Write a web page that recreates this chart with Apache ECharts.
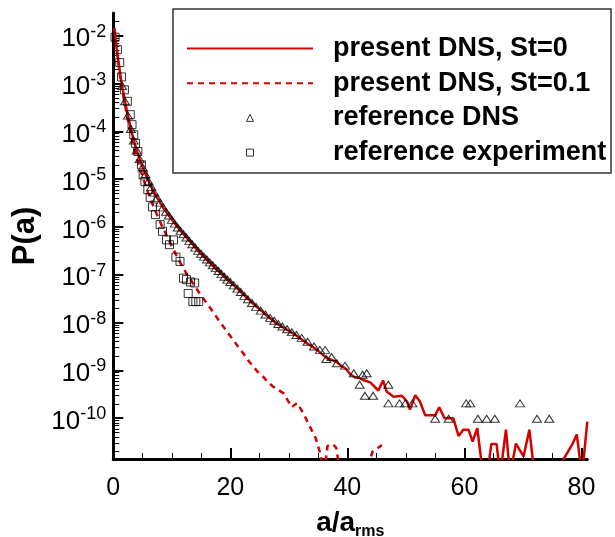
<!DOCTYPE html>
<html><head><meta charset="utf-8">
<script src="https://cdn.jsdelivr.net/npm/echarts@6/dist/echarts.min.js"></script>
<style>html,body{margin:0;padding:0;background:#fff}#c{width:615px;height:537px}</style>
</head><body><div id="c"></div>
<script>
// ---- data: x = a/a_rms, values are log10 P(a); -11.2 marks zero-probability bins (below the axis floor)
const st0X = [0.2,0.6,1.4,2.3,3.1,3.7,4.5,5.3,6.1,6.9,7.7,8.5,9.3,10.1,10.9,11.7,12.5,13.3,14.1,14.9,15.7,16.5,17.3,18.1,18.9,19.7,20.5,21.3,22.1,22.9,23.7,24.5,25.3,26.1,26.9,27.7,28.5,29.3,30.1,30.9,31.7,32.5,33.3,34.1,34.9,35.7,36.5,37.3,38.1,38.9,39.7,40.5,41.3,42.1,42.7,43.9,45.3,46.1,46.7,47.9,49.3,50.2,50.7,51.6,52.4,53.3,55.0,55.7,56.6,58.1,59.0,59.8,60.7,61.4,62.2,63.2,63.9,64.6,65.5,66.1,67.1,67.8,68.8,70.1,71.1,72.0,75.3,78.5,79.2,80.1,81.0];
const st0LogP = [-1.84,-2.29,-2.99,-3.55,-4.00,-4.28,-4.58,-4.84,-5.06,-5.26,-5.43,-5.59,-5.73,-5.86,-5.99,-6.11,-6.22,-6.33,-6.44,-6.55,-6.65,-6.75,-6.85,-6.94,-7.03,-7.12,-7.21,-7.30,-7.40,-7.49,-7.58,-7.67,-7.75,-7.84,-7.92,-8.00,-8.06,-8.12,-8.18,-8.24,-8.31,-8.38,-8.45,-8.51,-8.58,-8.66,-8.74,-8.78,-8.82,-8.90,-8.96,-9.08,-9.15,-9.16,-9.20,-9.25,-9.42,-9.21,-9.44,-9.55,-9.53,-9.65,-9.82,-9.52,-9.65,-9.94,-9.94,-9.77,-10.00,-10.00,-10.37,-10.24,-10.24,-10.49,-10.21,-11.2,-11.2,-10.54,-10.54,-11.2,-10.24,-11.2,-10.53,-10.80,-10.24,-11.2,-11.2,-10.53,-10.34,-11.2,-10.07];

const st01X = [0.2,0.6,1.2,2.0,2.8,3.6,4.4,5.2,6.0,6.8,7.6,8.4,9.2,10.0,10.8,11.6,12.4,13.2,14.0,14.8,15.6,16.4,17.2,18.0,18.8,19.6,20.5,21.3,22.2,23.0,23.9,24.7,25.6,26.4,27.3,28.1,29.1,30.5,31.4,32.5,33.4,34.6,35.4,36.0,36.6,37.5,38.1,38.8,43.0,44.3,45.9];
const st01LogP = [-1.86,-2.32,-2.90,-3.45,-3.95,-4.38,-4.72,-5.02,-5.30,-5.55,-5.78,-6.00,-6.20,-6.40,-6.60,-6.78,-6.95,-7.10,-7.25,-7.40,-7.53,-7.67,-7.80,-7.95,-8.08,-8.22,-8.36,-8.50,-8.64,-8.78,-8.92,-9.03,-9.13,-9.24,-9.34,-9.40,-9.48,-9.77,-9.68,-9.90,-10.13,-10.42,-10.75,-11.2,-10.58,-10.54,-10.62,-11.2,-11.2,-10.70,-10.56];

const refDnsX = [1.5,2.0,2.5,3.0,3.5,4.0,4.5,5.0,5.5,6.0,6.5,7.0,7.5,8.0,8.5,9.0,9.5,10.0,10.5,11.0,11.5,12.0,12.5,13.0,13.5,14.0,14.5,15.0,15.5,16.0,16.5,17.0,17.5,18.0,18.5,19.0,19.5,20.0,20.6,21.2,21.8,22.4,23.0,23.7,24.4,25.2,26.0,26.8,27.5,28.2,28.9,29.7,30.5,31.3,32.2,33.2,34.3,35.3,36.2,36.4,37.3,38.2,39.6,41.1,42.1,42.6,43.0,43.3,44.4,47.0,47.0,48.9,49.9,51.1,55.0,57.3,60.3,61.0,62.3,63.8,65.2,69.5,72.4,74.5];
const refDnsLogP = [-3.05,-3.37,-3.67,-3.95,-4.19,-4.40,-4.58,-4.75,-4.90,-5.04,-5.16,-5.28,-5.39,-5.49,-5.59,-5.68,-5.76,-5.85,-5.93,-6.01,-6.08,-6.15,-6.22,-6.29,-6.36,-6.43,-6.50,-6.56,-6.62,-6.68,-6.74,-6.80,-6.86,-6.92,-6.98,-7.04,-7.10,-7.15,-7.22,-7.29,-7.36,-7.44,-7.51,-7.59,-7.67,-7.75,-7.83,-7.90,-7.96,-8.03,-8.08,-8.14,-8.20,-8.26,-8.32,-8.40,-8.50,-8.57,-8.57,-8.76,-8.72,-8.85,-8.90,-9.06,-9.30,-9.09,-9.53,-9.06,-9.53,-9.30,-9.69,-9.69,-9.69,-9.69,-10.01,-10.01,-9.69,-9.69,-10.01,-10.01,-10.01,-9.69,-10.01,-10.01];

const refExpX = [0.3,0.7,1.1,1.4,1.9,2.4,2.9,3.2,3.5,3.8,4.2,4.8,5.1,5.4,5.9,6.3,6.7,7.2,8.0,8.4,9.1,9.6,10.3,10.7,11.4,12.0,12.5,13.2,13.9,12.8,13.6,14.1,14.6];
const refExpLogP = [-2.03,-2.29,-2.56,-2.86,-3.13,-3.37,-3.65,-3.86,-4.07,-4.25,-4.42,-4.70,-4.91,-5.05,-5.22,-5.38,-5.58,-5.74,-5.95,-6.09,-6.27,-6.37,-6.27,-6.63,-6.72,-7.07,-7.10,-7.15,-7.17,-7.39,-7.56,-7.56,-7.56];

const seriesNames = ['present DNS, St=0', 'present DNS, St=0.1', 'reference DNS', 'reference experiment'];
const xTickLabels = [0, 20, 40, 60, 80];
const xMinorTicks = [5, 10, 15, 25, 30, 35, 45, 50, 55, 65, 70, 75];
const yDecades = [-10, -9, -8, -7, -6, -5, -4, -3, -2];

// ---- build
const FONT = '"Liberation Sans", Arial, Helvetica, sans-serif';
const RED = '#d40000';
const TRI_ICON = 'path://M0,10L5,0L10,10Z';
const SQ_ICON = 'path://M0,0L10,0L10,10L0,10Z';
const pairs = (xs, ys) => xs.map((x, i) => [x, ys[i]]);
const yMin = -10.853, yMax = -1.523;
const yMinor = [];
for (let n = -11; n <= -2; n++) for (let k = 2; k <= 9; k++) {
  const v = n + Math.log10(k);
  if (v > yMin && v <= yMax + 1e-6) yMinor.push(v);
}

const chart = echarts.init(document.getElementById('c'), null, {renderer: 'canvas'});
chart.setOption({
  animation: false,
  backgroundColor: '#fff',
  grid: {left: 113.3, right: 27.7, top: 13, bottom: 78, outerBoundsMode: 'none'},
  xAxis: [{
    type: 'value', min: 0, max: 81, position: 'bottom',
    axisLine: {lineStyle: {color: '#000', width: 3}},
    axisTick: {inside: true, length: 11, lineStyle: {color: '#000', width: 2}, customValues: xTickLabels},
    axisLabel: {customValues: xTickLabels, color: '#000', fontFamily: FONT, fontSize: 25, margin: 17},
    splitLine: {show: false},
    name: '{m|a/a}{sub|rms}', nameLocation: 'middle', nameGap: 46,
    nameTextStyle: {rich: {
      m: {fontFamily: FONT, fontSize: 28, fontWeight: 'bold', color: '#000', lineHeight: 28, verticalAlign: 'top'},
      sub: {fontFamily: FONT, fontSize: 16, fontWeight: 'bold', color: '#000', lineHeight: 16, padding: [18, 0, 0, 0]}
    }}
  }, {
    type: 'value', min: 0, max: 81, position: 'bottom',
    axisLine: {show: false},
    axisTick: {inside: true, length: 6, lineStyle: {color: '#000', width: 1}, customValues: xMinorTicks},
    axisLabel: {show: false}, splitLine: {show: false}
  }],
  yAxis: [{
    type: 'value', min: yMin, max: yMax, position: 'left',
    axisLine: {lineStyle: {color: '#000', width: 3}},
    axisTick: {inside: true, length: 10, lineStyle: {color: '#000', width: 2}, customValues: yDecades},
    axisLabel: {
      customValues: yDecades, margin: 7,
      formatter: v => '{b|10}{s|' + Math.round(v) + '}',
      rich: {
        b: {fontFamily: FONT, fontSize: 26, color: '#000', lineHeight: 26, padding: [7, 0, 0, 0]},
        s: {fontFamily: FONT, fontSize: 18, color: '#000', lineHeight: 18, verticalAlign: 'top'}
      }
    },
    splitLine: {show: false},
    name: 'P(a)', nameLocation: 'middle', nameGap: 70, nameRotate: 90,
    nameTextStyle: {fontFamily: FONT, fontSize: 31, fontWeight: 'bold', color: '#000'}
  }, {
    type: 'value', min: yMin, max: yMax, position: 'left',
    axisLine: {show: false},
    axisTick: {inside: true, length: 6, lineStyle: {color: '#000', width: 1}, customValues: yMinor},
    axisLabel: {show: false}, splitLine: {show: false}
  }],
  legend: {
    orient: 'vertical', left: 186, top: 35, padding: 0,
    itemWidth: 126, itemHeight: 7, itemGap: 7.7, selectedMode: false, symbolKeepAspect: true,
    data: [
      {name: seriesNames[0], itemStyle: {opacity: 0}},
      {name: seriesNames[1], itemStyle: {opacity: 0}},
      {name: seriesNames[2], icon: TRI_ICON, itemStyle: {color: 'transparent', borderColor: '#000', borderWidth: 1}},
      {name: seriesNames[3], icon: SQ_ICON, itemStyle: {color: 'transparent', borderColor: '#000', borderWidth: 1}}
    ],
    textStyle: {fontFamily: FONT, fontSize: 27, fontWeight: 'bold', color: '#000', lineHeight: 26, padding: [0, 0, 0, 15]}
  },
  graphic: [{
    type: 'rect', z: 100, silent: true,
    shape: {x: 173, y: 9, width: 438, height: 164},
    style: {fill: 'transparent', stroke: '#333', lineWidth: 1.5}
  }],
  series: [{
    name: seriesNames[0], type: 'line', data: pairs(st0X, st0LogP),
    symbol: 'none', lineStyle: {color: RED, width: 2.5}, itemStyle: {color: RED}, z: 3
  }, {
    name: seriesNames[1], type: 'line', data: pairs(st01X, st01LogP),
    symbol: 'none', lineStyle: {color: RED, width: 2.5, type: [6, 5]}, itemStyle: {color: RED}, z: 3
  }, {
    name: seriesNames[2], type: 'scatter', data: pairs(refDnsX, refDnsLogP),
    symbol: 'triangle', symbolSize: [9, 7],
    itemStyle: {color: 'transparent', borderColor: '#000', borderWidth: 1}, z: 4
  }, {
    name: seriesNames[3], type: 'scatter', data: pairs(refExpX, refExpLogP),
    symbol: 'rect', symbolSize: 8,
    itemStyle: {color: 'transparent', borderColor: '#000', borderWidth: 1}, z: 4
  }]
});
</script>
</body></html>
